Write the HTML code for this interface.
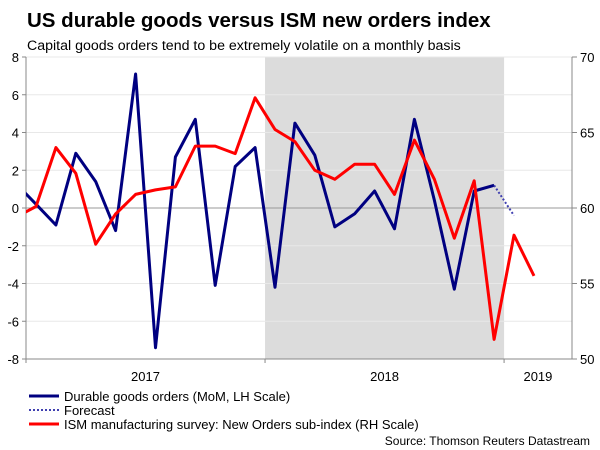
<!DOCTYPE html>
<html><head><meta charset="utf-8"><style>
body{margin:0;background:#fff;width:600px;height:450px;overflow:hidden;font-family:"Liberation Sans",Arial,sans-serif}
svg{position:absolute;left:0;top:0}
</style></head><body>
<svg id="c" width="600" height="450" font-family="Liberation Sans, Arial, sans-serif">
<text x="27" y="27" font-size="20.5" font-weight="bold" fill="#000">US durable goods versus ISM new orders index</text>
<text x="27" y="50" font-size="14.2" fill="#000">Capital goods orders tend to be extremely volatile on a monthly basis</text>
<g id="plot"></g>
<g>
<line x1="29" y1="396" x2="59" y2="396" stroke="#000080" stroke-width="3"/>
<text x="64" y="401" font-size="13">Durable goods orders (MoM, LH Scale)</text>
<line x1="29" y1="410" x2="59" y2="410" stroke="#4040b0" stroke-width="2" stroke-dasharray="2,2"/>
<text x="64" y="415" font-size="13">Forecast</text>
<line x1="29" y1="424" x2="59" y2="424" stroke="#ff0000" stroke-width="3"/>
<text x="64" y="429" font-size="13">ISM manufacturing survey: New Orders sub-index (RH Scale)</text>
</g>
<text x="590" y="445" font-size="12" text-anchor="end">Source: Thomson Reuters Datastream</text>
</svg>
<script>
const months=["Dec16","Jan17","Feb17","Mar17","Apr17","May17","Jun17","Jul17","Aug17","Sep17","Oct17","Nov17","Dec17","Jan18","Feb18","Mar18","Apr18","May18","Jun18","Jul18","Aug18","Sep18","Oct18","Nov18","Dec18","Jan19","Feb19"];
const durable=[1.3,0.2,-0.9,2.9,1.4,-1.2,7.1,-7.4,2.7,4.7,-4.1,2.2,3.2,-4.2,4.5,2.8,-1.0,-0.3,0.9,-1.1,4.7,0.4,-4.3,0.9,1.2];
const forecast=[1.2,-0.4];
const ism=[59.4,60.1,64.0,62.3,57.6,59.6,60.9,61.2,61.4,64.1,64.1,63.6,67.3,65.2,64.4,62.5,61.9,62.9,62.9,60.9,64.5,61.9,58.0,61.8,51.3,58.2,55.5];
const leftTicks=[-8,-6,-4,-2,0,2,4,6,8];
const rightTicks=[50,55,60,65,70];
const years=["2017","2018","2019"];

const X0=26,X1=572,Y0=57,Y1=359,MW=19.92;
const xm=i=>X0+(i-1)*MW+MW/2; // i index in months (Dec16 = 0)
const yl=v=>Y0+(8-v)*(Y1-Y0)/16;
const yr=v=>Y0+(70-v)*(Y1-Y0)/20;
const NS="http://www.w3.org/2000/svg";
const g=document.getElementById('plot');
function mk(t,a){const e=document.createElementNS(NS,t);for(const k in a)e.setAttribute(k,a[k]);g.appendChild(e);return e;}
const defs=mk('defs',{});
const cp=document.createElementNS(NS,'clipPath');cp.setAttribute('id','clip');
const cr=document.createElementNS(NS,'rect');cr.setAttribute('x',X0);cr.setAttribute('y',Y0-5);cr.setAttribute('width',X1-X0);cr.setAttribute('height',Y1-Y0+10);
cp.appendChild(cr);defs.appendChild(cp);

let e=mk('rect',{x:X0+12*MW,y:Y0,width:12*MW,height:Y1-Y0,fill:'#dcdcdc'});


leftTicks.forEach(v=>{
 if(v!==0&&v!==-8){const l=mk('line',{x1:X0,x2:X1,y1:yl(v),y2:yl(v),stroke:'#e8e8e8','stroke-width':1});
 
 }
 const t=mk('line',{x1:X0-4,x2:X0,y1:yl(v),y2:yl(v),stroke:'#888'});
 const tx=mk('text',{x:X0-7,y:yl(v)+5,'font-size':13,'text-anchor':'end',fill:'#000'});tx.textContent=v;
 
 
});
const z=mk('line',{x1:X0,x2:X1,y1:yl(0),y2:yl(0),stroke:'#999','stroke-width':1});


mk('line',{x1:X0,x2:X0,y1:Y0,y2:Y1,stroke:'#888'});
mk('line',{x1:X1,x2:X1,y1:Y0,y2:Y1,stroke:'#888'});
mk('line',{x1:X0,x2:X1,y1:Y1,y2:Y1,stroke:'#888'});
rightTicks.forEach(v=>{
 mk('line',{x1:X1,x2:X1+5,y1:yr(v),y2:yr(v),stroke:'#888'});
 const tx=mk('text',{x:X1+8,y:yr(v)+5,'font-size':13,fill:'#000'});tx.textContent=v;
 
 
});
years.forEach((y,k)=>{
 const bx=X0+k*12*MW;
 mk('line',{x1:bx,x2:bx,y1:Y1,y2:Y1+4,stroke:'#888'});
 const cx=k<2?bx+6*MW:bx+1.7*MW;
 const tx=mk('text',{x:cx,y:Y1+22,'font-size':13,'text-anchor':'middle'});tx.textContent=y;
 
 
});
const pts=(arr,f,off)=>arr.map((v,i)=>xm(i+off).toFixed(1)+','+f(v).toFixed(1)).join(' ');
const pb=mk('polyline',{points:pts(durable,yl,0),fill:'none',stroke:'#000080','stroke-width':3,'stroke-linejoin':'round','clip-path':'url(#clip)'});


const pf=mk('polyline',{points:pts(forecast,yl,durable.length-1),fill:'none',stroke:'#4040b0','stroke-width':2,'stroke-dasharray':'2,2'});


const pr=mk('polyline',{points:pts(ism,yr,0),fill:'none',stroke:'#ff0000','stroke-width':3,'stroke-linejoin':'round','clip-path':'url(#clip)'});


</script>
</body></html>
